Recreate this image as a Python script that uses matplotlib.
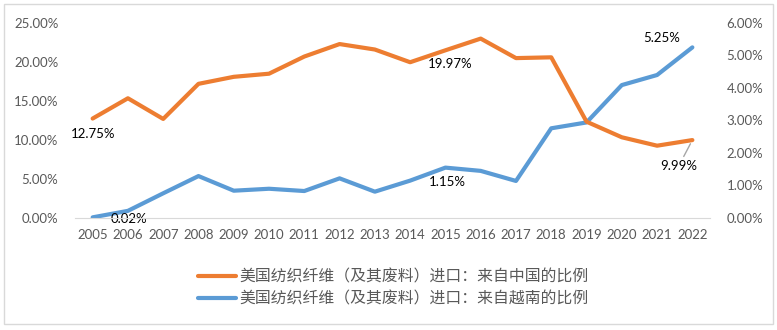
import matplotlib
matplotlib.use("Agg")
import matplotlib.pyplot as plt
from matplotlib.lines import Line2D
from matplotlib.patches import Rectangle
from matplotlib.ticker import FuncFormatter

years = list(range(2005, 2023))
china_share = [12.75, 15.35, 12.70, 17.20, 18.10, 18.50, 20.70, 22.30, 21.60, 19.97,
               21.50, 23.00, 20.50, 20.60, 12.35, 10.35, 9.27, 9.99]
vietnam_share = [0.02, 0.22, 0.76, 1.29, 0.84, 0.90, 0.83, 1.22, 0.81, 1.15,
                 1.55, 1.45, 1.14, 2.76, 2.94, 4.09, 4.40, 5.25]
left_ticks = [0, 5, 10, 15, 20, 25]
right_ticks = [0, 1, 2, 3, 4, 5, 6]
label_china = "美国纺织纤维（及其废料）进口：来自中国的比例"
label_vietnam = "美国纺织纤维（及其废料）进口：来自越南的比例"

ORANGE = "#ED7D31"
BLUE = "#5B9BD5"
GREY_TXT = "#595959"
NUM_FONT = "Lato"

fig = plt.figure(figsize=(7.77, 3.30), dpi=100)
fig.patches.append(Rectangle((4 / 777, 6 / 330), 769 / 777, 320 / 330,
                             transform=fig.transFigure, fill=False,
                             edgecolor="#D9D9D9", linewidth=1.0))

ax = fig.add_axes([75 / 777, 112 / 330, 635 / 777, 195 / 330])
ax2 = ax.twinx()

x = list(range(len(years)))
ax.plot(x, china_share, color=ORANGE, linewidth=3, solid_joinstyle="round",
        solid_capstyle="round", zorder=3)
ax2.plot(x, vietnam_share, color=BLUE, linewidth=3, solid_joinstyle="round",
         solid_capstyle="round", zorder=3)

ax.set_xlim(-0.5, len(years) - 0.5)
ax.set_ylim(0, 25)
ax2.set_ylim(0, 6)
ax.set_yticks(left_ticks)
ax2.set_yticks(right_ticks)
pct = FuncFormatter(lambda v, p: f"{v:.2f}%")
ax.yaxis.set_major_formatter(pct)
ax2.yaxis.set_major_formatter(pct)
ax.set_xticks(x)
ax.set_xticklabels([str(y) for y in years])

for a in (ax, ax2):
    for s in ("top", "left", "right", "bottom"):
        a.spines[s].set_visible(False)
    a.tick_params(length=0, labelsize=9.5, labelcolor=GREY_TXT)
    for t in a.get_xticklabels() + a.get_yticklabels():
        t.set_fontfamily(NUM_FONT)
ax.spines["bottom"].set_visible(True)
ax.spines["bottom"].set_color("#D9D9D9")
ax.tick_params(axis="x", pad=8)
ax.tick_params(axis="y", pad=12)
ax2.tick_params(axis="y", pad=12)
ax.set_zorder(ax2.get_zorder() + 1)
ax.patch.set_visible(False)


def label(axis, i, values, dx, dy, line=False):
    kw = dict(textcoords="offset points", ha="center", va="center",
              fontsize=9.5, color="black", fontfamily=NUM_FONT)
    if line:
        kw["arrowprops"] = dict(arrowstyle="-", color="#A6A6A6", lw=1,
                                shrinkA=1, shrinkB=3)
    axis.annotate(f"{values[i]:.2f}%", xy=(i, values[i]), xytext=(dx, dy), **kw)


label(ax, 0, china_share, 0, -11)
label(ax2, 0, vietnam_share, 26, -1)
label(ax, 9, china_share, 29, -1)
label(ax2, 9, vietnam_share, 27, -1)
label(ax2, 17, vietnam_share, -22, 7)
label(ax, 17, china_share, -10, -19, line=True)

handles = [Line2D([], [], color=ORANGE, linewidth=3, solid_capstyle="round"),
           Line2D([], [], color=BLUE, linewidth=3, solid_capstyle="round")]
leg = fig.legend(handles, [label_china, label_vietnam], loc="center",
                 bbox_to_anchor=(0.506, 0.128), frameon=False,
                 prop={"family": ["Noto Sans CJK SC", "DejaVu Sans"], "size": 11.4},
                 handlelength=2.4, handletextpad=0.2, labelspacing=0.3,
                 borderpad=0)
for t in leg.get_texts():
    t.set_color(GREY_TXT)

fig.savefig("out.png", dpi=100)
